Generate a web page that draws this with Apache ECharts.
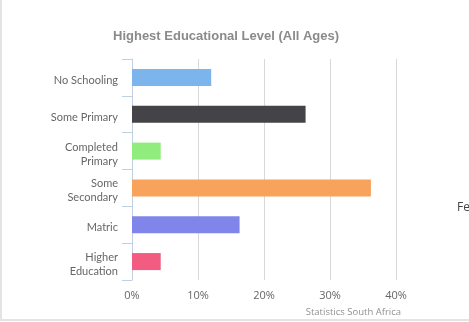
<!DOCTYPE html>
<html>
<head>
<meta charset="utf-8">
<script src="https://cdn.jsdelivr.net/npm/echarts@6/dist/echarts.min.js"></script>
<style>
  html, body { margin: 0; padding: 0; background: #fff; }
  #frame { position: absolute; left: 0; top: 0; width: 469px; height: 322px; }
  #edge { position: absolute; left: 0; top: 0; width: 467px; height: 319px;
          border-left: 2px solid #e4e4e4; border-bottom: 2px solid #e4e4e4; pointer-events: none; }
  #chart { position: absolute; left: 0; top: 0; width: 469px; height: 322px; }
</style>
</head>
<body>
<div id="frame">
  <div id="chart"></div>
  <div id="edge"></div>
</div>
<script>
// Highest educational level, share of population (percent)
const categories = ['No Schooling', 'Some Primary', 'Completed\nPrimary', 'Some\nSecondary', 'Matric', 'Higher\nEducation'];
const shares = [12.0, 26.3, 4.35, 36.2, 16.3, 4.35];
const barColors = ['#7cb5ec', '#434348', '#90ed7d', '#f7a35c', '#8085e9', '#f15c80'];
const xTicks = [0, 10, 20, 30, 40];

const labelFont = '"Open Sans", "DejaVu Sans", sans-serif';
const catFont = 'Lato, "Open Sans", sans-serif';

// category labels sit slightly below the band centre: first line gets a taller box
function catLabel(name) {
  return name.split('\n').map((line, i) => (i === 0 ? '{f|' : '{t|') + line + '}').join('\n');
}

const chart = echarts.init(document.getElementById('chart'), null, { renderer: 'canvas' });
chart.setOption({
  animation: false,
  backgroundColor: '#fff',
  title: {
    text: 'Highest Educational Level (All Ages)',
    left: 108,
    top: 25,
    textStyle: { fontFamily: '"Liberation Sans", Arial, sans-serif', fontSize: 13, fontWeight: 'bold', color: '#8a8a8a' }
  },
  grid: { left: 132, right: 73, top: 59, bottom: 42, containLabel: false },
  xAxis: {
    type: 'value',
    min: xTicks[0],
    max: xTicks[xTicks.length - 1],
    interval: xTicks[1] - xTicks[0],
    axisLine: { show: false },
    axisTick: { show: false },
    splitLine: { show: true, lineStyle: { color: '#d8d8d8', width: 1 } },
    axisLabel: { formatter: '{value}%', color: '#666', fontSize: 11, fontFamily: labelFont, margin: 10 }
  },
  yAxis: {
    type: 'category',
    inverse: true,
    data: categories,
    axisLine: { show: true, lineStyle: { color: '#c0d0e0', width: 1 } },
    axisTick: { show: true, length: 10, alignWithLabel: false, lineStyle: { color: '#c0d0e0', width: 1 } },
    splitLine: { show: false },
    axisLabel: {
      color: '#666', fontSize: 11, fontFamily: catFont, margin: 14, align: 'right',
      formatter: catLabel,
      rich: {
        f: { color: '#666', fontSize: 11, fontFamily: catFont, lineHeight: 17, verticalAlign: 'bottom', align: 'right' },
        t: { color: '#666', fontSize: 11, fontFamily: catFont, lineHeight: 14, verticalAlign: 'bottom', align: 'right' }
      }
    }
  },
  series: [{
    type: 'bar',
    barWidth: 17,
    data: shares.map((v, i) => ({ value: v, itemStyle: { color: barColors[i] } }))
  }],
  graphic: [
    {
      type: 'text', right: 68, bottom: 5,
      style: { text: 'Statistics South Africa', fill: '#909090', fontSize: 9.5, fontFamily: labelFont }
    },
    {
      type: 'text', left: 457, top: 202,
      style: { text: 'Fe', fill: '#444', fontSize: 12, fontFamily: labelFont }
    }
  ]
});
</script>
</body>
</html>
